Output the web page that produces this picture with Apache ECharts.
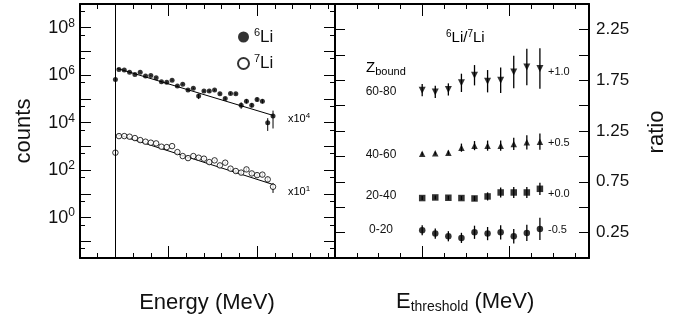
<!DOCTYPE html>
<html><head><meta charset="utf-8">
<script src="https://cdn.jsdelivr.net/npm/echarts@6/dist/echarts.min.js"></script>
<style>html,body{margin:0;padding:0;background:#fff}#c{width:696px;height:327px}</style>
</head><body><div id="c"></div>
<script>
// ---------- Left panel: energy spectra (counts, log scale) ----------
const energy = [22,25,28,31,34,37,40,43,46,49,52,55,58,61,64,67,70,73,76,79,82,85,88,91,94,97,100,103,106,109];
const li6Counts = [1.75e6,1.64e6,1.35e6,1.08e6,1.35e6,9.2e5,9.8e5,7.9e5,5.3e5,5.1e5,6.2e5,3.5e5,4.2e5,2.36e5,2.8e5,1.32e5,2.14e5,2.14e5,2.36e5,1.66e5,1.05e5,1.71e5,1.66e5,5.5e4,8.1e4,5.5e4,9.6e4,8.1e4,1.0e4,1.9e4];
const li6RelErr = [0.03,0.03,0.03,0.03,0.03,0.04,0.04,0.04,0.05,0.05,0.05,0.06,0.06,0.07,0.07,0.25,0.08,0.08,0.08,0.1,0.12,0.1,0.1,0.3,0.2,0.2,0.2,0.2,0.55,0.7];
const li7Counts = [2730,2730,2575,2250,1850,1585,1440,1343,975,940,1030,578,393,323,393,336,305,219,259,159,207,116,92,79,108,73,62,65,41,20];
const li7RelErr = [0.03,0.03,0.03,0.03,0.03,0.03,0.03,0.03,0.04,0.04,0.04,0.04,0.05,0.05,0.05,0.05,0.08,0.08,0.08,0.1,0.1,0.1,0.12,0.2,0.2,0.2,0.2,0.2,0.3,0.45];
const thresholdEnergy = 20;
const li6AtThreshold = 6.65e5;
const li7AtThreshold = 546;
const li6Fit = [[21, 1.93e6], [109, 2.03e4]];
const li7Fit = [[21, 3.2e3], [109, 25]];
const countsLabelTicks = [1, 1e2, 1e4, 1e6, 1e8];
const countsMajorTicks = [0.1, 1, 10, 100, 1e3, 1e4, 1e5, 1e6, 1e7, 1e8];
const countsMinorTicks = [0.05, 0.5, 5, 50, 500, 5e3, 5e4, 5e5, 5e6, 5e7, 5e8];
const energyMajorTicks = [0, 50, 100];
const energyMinorTicks = [10, 20, 30, 40, 60, 70, 80, 90, 110, 120, 130, 140];

// ---------- Right panel: 6Li/7Li ratio vs threshold ----------
const eThreshold = [20,23,26,29,32,35,38,41,44,47];
const zboundLabels = ['60-80','40-60','20-40','0-20'];
const offsetLabels = ['+1.0','+0.5','+0.0','-0.5'];
const ratio60_80 = [1.652,1.635,1.659,1.724,1.799,1.74,1.75,1.831,1.88,1.865];
const err60_80   = [0.06,0.06,0.06,0.09,0.1,0.11,0.125,0.16,0.18,0.2];
const ratio40_60 = [1.025,1.031,1.037,1.086,1.106,1.106,1.106,1.123,1.139,1.145];
const err40_60   = [0.015,0.015,0.02,0.04,0.045,0.05,0.05,0.06,0.07,0.08];
const ratio20_40 = [0.590,0.596,0.593,0.590,0.586,0.606,0.645,0.645,0.645,0.681];
const err20_40   = [0.02,0.02,0.02,0.02,0.025,0.04,0.05,0.055,0.055,0.06];
const ratio0_20  = [0.273,0.240,0.214,0.198,0.253,0.240,0.253,0.214,0.247,0.286];
const err0_20    = [0.05,0.05,0.05,0.05,0.065,0.065,0.07,0.072,0.08,0.11];
const ratioLabelTicks = [0.25, 0.75, 1.25, 1.75, 2.25];
const eThrMajorTicks = [0, 20, 40];
const eThrMinorTicks = [5, 10, 15, 25, 30, 35, 45, 50, 55];

const FONT = 'Liberation Sans, Arial, Helvetica, sans-serif';
const INK = '#111';

function xAx(grid, pos, min, max, ticks, len, showLine) {
  return {type: 'value', gridIndex: grid, position: pos, min: min, max: max,
    axisLine: {show: showLine, onZero: false, lineStyle: {color: '#000', width: 2}},
    axisTick: {show: true, inside: true, length: len, customValues: ticks, lineStyle: {color: '#000', width: 1}},
    axisLabel: {show: false}, splitLine: {show: false}};
}
function yLog(pos, ticks, len, showLine, labels) {
  return {type: 'log', logBase: 10, gridIndex: 0, position: pos, min: 0.02, max: 1e9,
    axisLine: {show: showLine, onZero: false, lineStyle: {color: '#000', width: 2}},
    axisTick: {show: true, inside: true, length: len, customValues: ticks, lineStyle: {color: '#000', width: 1}},
    axisLabel: labels ? {show: true, customValues: countsLabelTicks, margin: 5, color: INK, fontFamily: FONT,
      formatter: v => '{b|10}{s|' + Math.round(Math.log10(v)) + '}',
      rich: {b: {fontSize: 18, fontFamily: FONT, color: INK}, s: {fontSize: 12, fontFamily: FONT, color: INK, padding: [0, 0, 9, 0]}}} : {show: false},
    splitLine: {show: false}};
}
function yRatio(pos, labels) {
  return {type: 'value', gridIndex: 1, position: pos, min: 0, max: 2.5, interval: 0.25,
    axisLine: {show: true, onZero: false, lineStyle: {color: '#000', width: 2}},
    axisTick: {show: true, inside: true, length: 10, lineStyle: {color: '#000', width: 1}},
    axisLabel: labels ? {show: true, customValues: ratioLabelTicks, margin: 7, color: INK, fontFamily: FONT, fontSize: 17,
      formatter: v => v.toFixed(2)} : {show: false},
    splitLine: {show: false}};
}
function errSeries(xs, lows, highs, xi, yi, w) {
  return {type: 'custom', xAxisIndex: xi, yAxisIndex: yi, silent: true, z: 1,
    data: xs.map((x, i) => [x, lows[i], highs[i]]),
    renderItem: (params, api) => {
      const a = api.coord([api.value(0), api.value(1)]);
      const b = api.coord([api.value(0), api.value(2)]);
      return {type: 'line', shape: {x1: a[0], y1: a[1], x2: b[0], y2: b[1]}, style: {stroke: '#000', lineWidth: w}};
    }};
}
function ratioSeries(name, vals, errs, symbol, size, rot) {
  return [
    errSeries(eThreshold, vals.map((v, i) => v - errs[i]), vals.map((v, i) => v + errs[i]), 4, 4, 1.3),
    {type: 'scatter', name: name, xAxisIndex: 4, yAxisIndex: 4, symbol: symbol, symbolSize: size, symbolRotate: rot || 0,
     itemStyle: {color: '#000'}, data: eThreshold.map((x, i) => [x, vals[i]]), z: 3}
  ];
}

const chart = echarts.init(document.getElementById('c'), null, {renderer: 'canvas'});
const option = {
  animation: false,
  backgroundColor: '#fff',
  grid: [
    {left: 80, top: 4, width: 255, height: 254},
    {left: 335, top: 4, width: 254, height: 254}
  ],
  xAxis: [
    xAx(0, 'bottom', 0, 144, energyMajorTicks, 12, true),
    xAx(0, 'bottom', 0, 144, energyMinorTicks, 5, false),
    xAx(0, 'top', 0, 144, energyMajorTicks, 12, true),
    xAx(0, 'top', 0, 144, energyMinorTicks, 5, false),
    xAx(1, 'bottom', 0, 58.26, eThrMajorTicks, 12, true),
    xAx(1, 'bottom', 0, 58.26, eThrMinorTicks, 5, false),
    xAx(1, 'top', 0, 58.26, eThrMajorTicks, 12, true),
    xAx(1, 'top', 0, 58.26, eThrMinorTicks, 5, false)
  ],
  yAxis: [
    yLog('left', countsMajorTicks, 11, true, true),
    yLog('left', countsMinorTicks, 5, false, false),
    yLog('right', countsMajorTicks, 11, true, false),
    yLog('right', countsMinorTicks, 5, false, false),
    yRatio('right', true),
    yRatio('left', false)
  ],
  legend: {
    data: ['6Li', '7Li'], orient: 'vertical', left: 232, top: 22, itemWidth: 11, itemHeight: 11, itemGap: 8,
    selectedMode: false,
    formatter: n => '{s|' + n.charAt(0) + '}{b|' + n.slice(1) + '}',
    textStyle: {rich: {b: {fontSize: 17, fontFamily: FONT, color: INK}, s: {fontSize: 11, fontFamily: FONT, color: INK, padding: [0, 0, 9, 0]}}}
  },
  series: [
    errSeries(energy, li6Counts.map((v, i) => v * (1 - li6RelErr[i])), li6Counts.map((v, i) => v * (1 + li6RelErr[i])), 0, 0, 1),
    errSeries(energy, li7Counts.map((v, i) => v * (1 - li7RelErr[i])), li7Counts.map((v, i) => v * (1 + li7RelErr[i])), 0, 0, 1),
    {type: 'line', xAxisIndex: 0, yAxisIndex: 0, data: li6Fit, showSymbol: false, silent: true,
     lineStyle: {color: '#000', width: 1}, z: 2},
    {type: 'line', xAxisIndex: 0, yAxisIndex: 0, data: li7Fit, showSymbol: false, silent: true,
     lineStyle: {color: '#000', width: 1}, z: 2},
    {type: 'scatter', name: '6Li', xAxisIndex: 0, yAxisIndex: 0, symbol: 'circle', symbolSize: 5,
     itemStyle: {color: '#000'}, data: energy.map((x, i) => [x, li6Counts[i]]), z: 3,
     markLine: {silent: true, symbol: ['none', 'none'], label: {show: false}, animation: false,
       lineStyle: {color: '#000', width: 1, type: 'solid'}, data: [{xAxis: thresholdEnergy}]}},
    {type: 'scatter', name: '7Li', xAxisIndex: 0, yAxisIndex: 0, symbol: 'circle', symbolSize: 5.5,
     itemStyle: {color: '#fff', borderColor: '#000', borderWidth: 1}, data: energy.map((x, i) => [x, li7Counts[i]]), z: 3},
    {type: 'scatter', xAxisIndex: 0, yAxisIndex: 0, symbol: 'circle', symbolSize: 5,
     itemStyle: {color: '#000'}, data: [[thresholdEnergy, li6AtThreshold]], z: 3},
    {type: 'scatter', xAxisIndex: 0, yAxisIndex: 0, symbol: 'circle', symbolSize: 5.5,
     itemStyle: {color: '#fff', borderColor: '#000', borderWidth: 1}, data: [[thresholdEnergy, li7AtThreshold]], z: 3},
    ...ratioSeries('Z 60-80', ratio60_80, err60_80, 'triangle', 7, 180),
    ...ratioSeries('Z 40-60', ratio40_60, err40_60, 'triangle', 6.5, 0),
    ...ratioSeries('Z 20-40', ratio20_40, err20_40, 'rect', 6.5, 0),
    ...ratioSeries('Z 0-20', ratio0_20, err0_20, 'circle', 6.5, 0)
  ],
  graphic: [
    {type: 'text', x: 24, y: 131, rotation: Math.PI / 2,
     style: {text: 'counts', fontSize: 22, fontFamily: FONT, fill: INK, align: 'center', verticalAlign: 'middle'}},
    {type: 'text', x: 657, y: 132, rotation: Math.PI / 2,
     style: {text: 'ratio', fontSize: 22, fontFamily: FONT, fill: INK, align: 'center', verticalAlign: 'middle'}},
    {type: 'text', x: 207, y: 303,
     style: {text: 'Energy (MeV)', fontSize: 22, fontFamily: FONT, fill: INK, align: 'center', verticalAlign: 'middle'}},
    {type: 'text', x: 396, y: 302,
     style: {text: '{b|E}{u|threshold}{b| (MeV)}', align: 'left', verticalAlign: 'middle',
       rich: {b: {fontSize: 22, fontFamily: FONT, fill: INK, color: INK}, u: {fontSize: 14, fontFamily: FONT, fill: INK, color: INK, padding: [11, 0, 0, 0]}}}},
    {type: 'text', x: 288, y: 119,
     style: {text: '{b|x10}{s|4}', align: 'left', verticalAlign: 'middle',
       rich: {b: {fontSize: 11, fontFamily: FONT, color: INK}, s: {fontSize: 8, fontFamily: FONT, color: INK, padding: [0, 0, 6, 0]}}}},
    {type: 'text', x: 288, y: 192,
     style: {text: '{b|x10}{s|1}', align: 'left', verticalAlign: 'middle',
       rich: {b: {fontSize: 11, fontFamily: FONT, color: INK}, s: {fontSize: 8, fontFamily: FONT, color: INK, padding: [0, 0, 6, 0]}}}},
    {type: 'text', x: 446, y: 38,
     style: {text: '{s|6}{b|Li/}{s|7}{b|Li}', align: 'left', verticalAlign: 'middle',
       rich: {b: {fontSize: 15, fontFamily: FONT, color: INK}, s: {fontSize: 10, fontFamily: FONT, color: INK, padding: [0, 0, 8, 0]}}}},
    {type: 'text', x: 366, y: 68,
     style: {text: '{b|Z}{u|bound}', align: 'left', verticalAlign: 'middle',
       rich: {b: {fontSize: 15, fontFamily: FONT, color: INK}, u: {fontSize: 11, fontFamily: FONT, color: INK, padding: [8, 0, 0, 0]}}}},
    ...zboundLabels.map((t, i) => ({type: 'text', x: 381, y: [92, 155, 196, 230][i],
     style: {text: t, fontSize: 12, fontFamily: FONT, fill: INK, align: 'center', verticalAlign: 'middle'}})),
    ...offsetLabels.map((t, i) => ({type: 'text', x: 548, y: [72, 143, 194, 230][i],
     style: {text: t, fontSize: 11, fontFamily: FONT, fill: INK, align: 'left', verticalAlign: 'middle'}}))
  ]
};
chart.setOption(option);
</script></body></html>
